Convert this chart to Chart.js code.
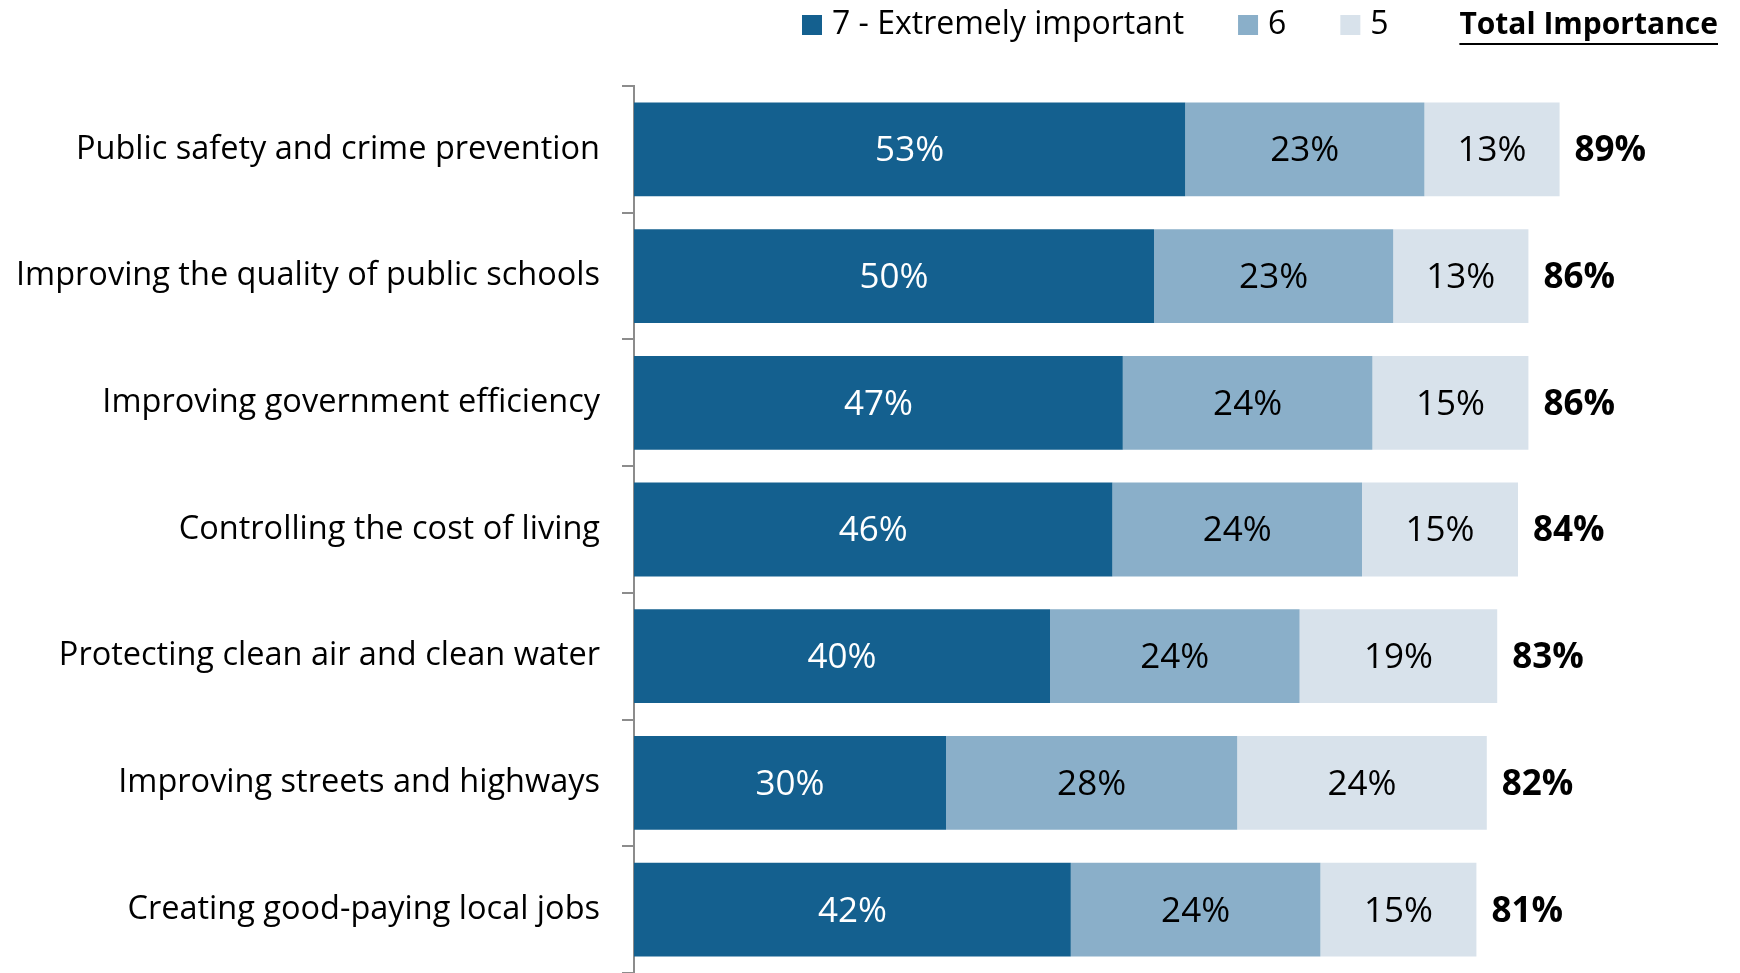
<!DOCTYPE html>
<html>
<head>
<meta charset="utf-8">
<script src="https://cdn.jsdelivr.net/npm/chart.js@4.4.1/dist/chart.umd.min.js"></script>
<style>
  html, body { margin: 0; padding: 0; background: #fff; overflow: hidden; }
  canvas { display: block; }
</style>
</head>
<body>
<canvas id="myChart" width="1740" height="973"></canvas>
<script>
// data
let categories = [
  'Public safety and crime prevention',
  'Improving the quality of public schools',
  'Improving government efficiency',
  'Controlling the cost of living',
  'Protecting clean air and clean water',
  'Improving streets and highways',
  'Creating good-paying local jobs'
]
let extremely = [53, 50, 47, 46, 40, 30, 42]
let six = [23, 23, 24, 24, 24, 28, 24]
let five = [13, 13, 15, 15, 19, 24, 15]
let totals = [89, 86, 86, 84, 83, 82, 81]
let seriesNames = ['7 - Extremely important', '6', '5']
let colors = ['#14608f', '#8aafc9', '#d8e2eb']
let labelColors = ['#ffffff', '#000000', '#000000']

const FONT = "'Open Sans', 'Noto Sans', sans-serif"

// values inside the bars + totals at the end
const barLabels = {
  id: 'barLabels',
  afterDatasetsDraw(chart) {
    const ctx = chart.ctx
    ctx.save()
    ctx.textBaseline = 'middle'
    ctx.textAlign = 'center'
    ctx.font = '35px ' + FONT
    chart.data.datasets.forEach((ds, i) => {
      let meta = chart.getDatasetMeta(i)
      meta.data.forEach((bar, j) => {
        ctx.fillStyle = labelColors[i]
        ctx.fillText(ds.data[j] + '%', (bar.x + bar.base) / 2, bar.y + 2)
      })
    })
    let last = chart.getDatasetMeta(chart.data.datasets.length - 1)
    ctx.textAlign = 'left'
    ctx.font = 'bold 35px ' + FONT
    ctx.fillStyle = '#000'
    last.data.forEach((bar, j) => {
      ctx.fillText(totals[j] + '%', bar.x + 15, bar.y + 2)
    })
    ctx.restore()
  }
}

// legend drawn by hand so "Total Importance" can sit with it
const topLegend = {
  id: 'topLegend',
  afterDraw(chart) {
    const ctx = chart.ctx
    ctx.save()
    ctx.textBaseline = 'middle'
    ctx.textAlign = 'left'
    ctx.font = '32px ' + FONT
    let x = 802
    let y = 25
    chart.data.datasets.forEach((ds, i) => {
      ctx.fillStyle = ds.backgroundColor
      ctx.fillRect(x, y - 10, 20, 20)
      ctx.fillStyle = '#000'
      ctx.fillText(ds.label, x + 30, y)
      x += 30 + ctx.measureText(ds.label).width + 54
    })
    ctx.font = 'bold 30px ' + FONT
    ctx.textAlign = 'right'
    ctx.fillText('Total Importance', 1718, y)
    let w = ctx.measureText('Total Importance').width
    ctx.fillRect(1718 - w, y + 18, w, 2)
    ctx.restore()
  }
}

const ctx = document.getElementById('myChart')

new Chart(ctx, {
  type: 'bar',
  data: {
    labels: categories,
    datasets: [
      { label: seriesNames[0], data: extremely, backgroundColor: colors[0] },
      { label: seriesNames[1], data: six, backgroundColor: colors[1] },
      { label: seriesNames[2], data: five, backgroundColor: colors[2] }
    ]
  },
  options: {
    indexAxis: 'y',
    responsive: false,
    animation: false,
    layout: { padding: { top: 86, right: 66, bottom: 0, left: 0 } },
    datasets: { bar: { categoryPercentage: 1, barPercentage: 0.74 } },
    plugins: { legend: { display: false }, tooltip: { enabled: false } },
    scales: {
      x: {
        stacked: true, min: 0, max: 100, display: false
      },
      y: {
        stacked: true,
        afterFit(s) {
          s.width = 634
          s.paddingTop = 0
          s.paddingBottom = 0
        },
        border: { display: true, color: '#8c8c8c', width: 2 },
        grid: { display: true, drawOnChartArea: false, drawTicks: true, tickLength: 12, offset: true, color: '#8c8c8c', lineWidth: 2 },
        ticks: { color: '#000', padding: 22, font: { family: FONT, size: 32.5 } }
      }
    }
  },
  plugins: [barLabels, topLegend]
})
</script>
</body>
</html>
